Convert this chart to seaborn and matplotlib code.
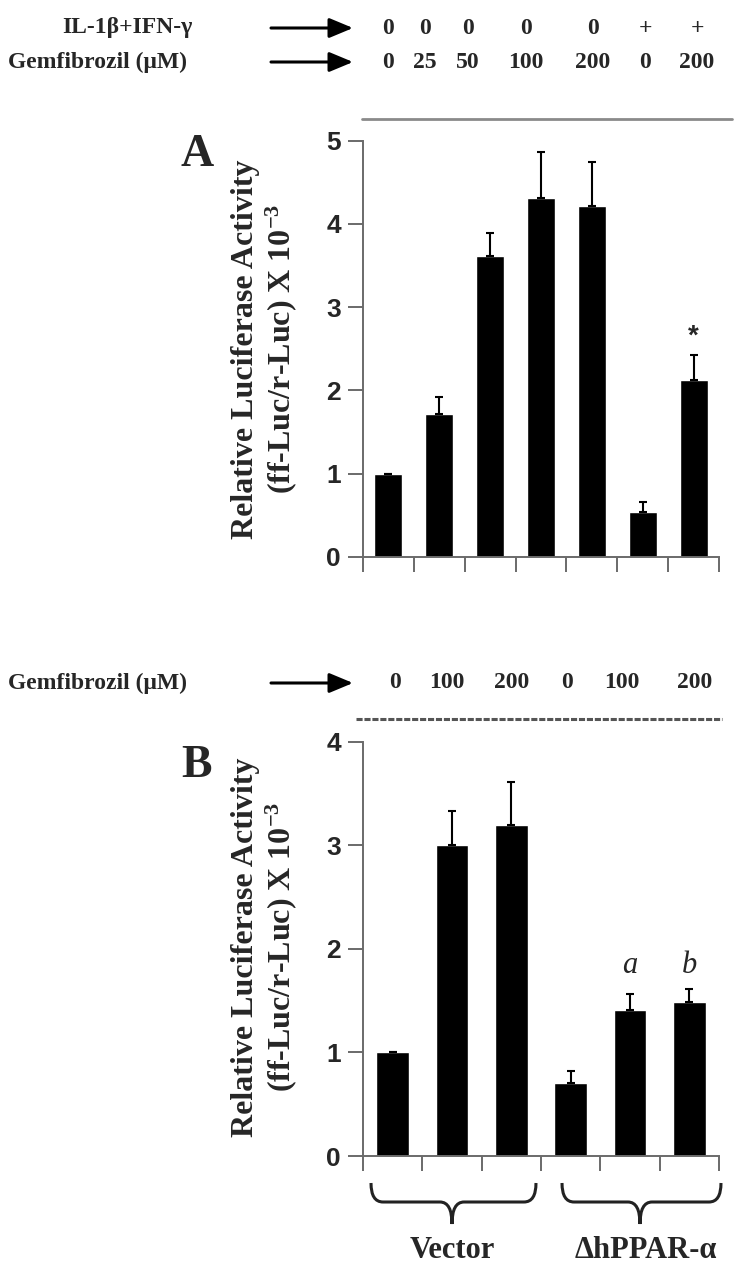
import numpy as np
import pandas as pd
import matplotlib
matplotlib.use("Agg")
import matplotlib.pyplot as plt
import seaborn as sns
from matplotlib.path import Path
from matplotlib.patches import PathPatch

# ---- panel A data ----
a_cond = ["c0", "g25", "g50", "g100", "g200", "cyt", "cyt_g200"]
a_cytokine = ["0", "0", "0", "0", "0", "+", "+"]
a_gem = ["0", "25", "50", "100", "200", "0", "200"]
a_mean = [1.0, 1.72, 3.62, 4.31, 4.22, 0.54, 2.12]
a_err = [0.0, 0.20, 0.27, 0.55, 0.52, 0.12, 0.30]

# ---- panel B data ----
b_cond = ["v0", "v100", "v200", "d0", "d100", "d200"]
b_gem = ["0", "100", "200", "0", "100", "200"]
b_mean = [1.0, 3.0, 3.2, 0.70, 1.41, 1.49]
b_err = [0.0, 0.33, 0.41, 0.12, 0.15, 0.12]
b_groups = ["Vector", "\u0394hPPAR-\u03b1"]
b_marks = {4: "a", 5: "b"}

sns.set_theme(style="white")
plt.rcParams["font.family"] = ["Liberation Serif", "DejaVu Serif"]
plt.rcParams["mathtext.default"] = "regular"

W, H = 747, 1266
fig = plt.figure(figsize=(W / 100, H / 100), dpi=100)

# overlay in pixel coordinates for header text, arrows, braces
ov = fig.add_axes([0, 0, 1, 1])
ov.set_xlim(0, W)
ov.set_ylim(H, 0)
ov.axis("off")
ov.patch.set_alpha(0)

serif = dict(family=["Liberation Serif", "DejaVu Serif"], weight="bold")
sans = dict(family=["Liberation Sans", "DejaVu Sans"], weight="bold")
spine_col = "#6a6a6a"


def px_axes(x0, x1, ytop, ybot):
    return fig.add_axes([x0 / W, 1 - ybot / H, (x1 - x0) / W, (ybot - ytop) / H])


def arrow(y):
    ov.annotate("", xy=(353, y), xytext=(271, y),
                arrowprops=dict(arrowstyle="-|>,head_length=1.2,head_width=0.5",
                                color="black", lw=2.2, shrinkA=0, shrinkB=0))


def style_axis(ax, n, ymax):
    ax.set_xlim(-0.5, n - 0.5)
    ax.set_ylim(0, ymax)
    ax.set_xticks(np.arange(-0.5, n))
    ax.set_xticklabels([])
    ax.set_yticks(range(ymax + 1))
    ax.set_yticklabels([str(v) for v in range(ymax + 1)], fontsize=19, **sans)
    ax.set_xlabel("")
    ax.set_ylabel("")
    sns.despine(ax=ax)
    for s in ["left", "bottom"]:
        ax.spines[s].set_color(spine_col)
        ax.spines[s].set_linewidth(1.4)
    ax.tick_params(axis="both", direction="out", length=11, width=1.4,
                   color=spine_col, left=True, bottom=True, pad=5)
    ax.patch.set_alpha(0)


def ylabel(yc):
    ov.text(246, yc, "Relative Luciferase Activity", rotation=90,
            ha="center", va="center", fontsize=23, **serif)
    ov.text(281, yc, "(ff-Luc/r-Luc) X 10$^{-3}$", rotation=90,
            ha="center", va="center", fontsize=23, **serif)


# ---------------- panel A ----------------
ov.text(127, 28, "IL-1\u03b2+IFN-\u03b3", ha="center", va="center", fontsize=17, **serif)
ov.text(98, 62, "Gemfibrozil (\u03bcM)", ha="center", va="center", fontsize=17, **serif)
arrow(28)
arrow(62)
a_hdr_x = [388, 425, 468, 526, 593, 645, 697]
for x, c, g in zip(a_hdr_x, a_cytokine, a_gem):
    ov.text(x, 28, c, ha="center", va="center", fontsize=17, **serif)
    ov.text(x, 62, g, ha="center", va="center", fontsize=17, **serif)
ov.plot([362, 732], [119, 119], color="#8a8a8a", lw=2)
ov.text(197, 155, "A", ha="center", va="center", fontsize=33, **serif)
ylabel(349)

axA = px_axes(363, 719, 140.7, 556.7)
dfA = pd.DataFrame({"cond": a_cond, "mean": a_mean})
sns.barplot(data=dfA, x="cond", y="mean", order=a_cond, color="black",
            width=0.55, errorbar=None, ax=axA, saturation=1)
axA.errorbar(np.arange(len(a_cond)), a_mean, yerr=[np.zeros(len(a_err)), a_err],
             fmt="none", ecolor="black", elinewidth=1.5, capsize=3, capthick=1.5)
style_axis(axA, len(a_cond), 5)
axA.text(6, a_mean[6] + a_err[6] + 0.22, "*", ha="center", va="center",
         fontsize=20, **sans)

# ---------------- panel B ----------------
ov.text(98, 683, "Gemfibrozil (\u03bcM)", ha="center", va="center", fontsize=17, **serif)
arrow(683)
b_hdr_x = [395, 447, 512, 567, 622, 695]
for x, g in zip(b_hdr_x, b_gem):
    ov.text(x, 683, g, ha="center", va="center", fontsize=17, **serif)
ov.plot([356, 722], [719, 719], color="#555555", lw=2.2, ls=(0, (2, 0.6)))
ov.text(197, 766, "B", ha="center", va="center", fontsize=33, **serif)
ylabel(947)

axB = px_axes(363, 719, 741.7, 1156)
dfB = pd.DataFrame({"cond": b_cond, "mean": b_mean})
sns.barplot(data=dfB, x="cond", y="mean", order=b_cond, color="black",
            width=0.55, errorbar=None, ax=axB, saturation=1)
axB.errorbar(np.arange(len(b_cond)), b_mean, yerr=[np.zeros(len(b_err)), b_err],
             fmt="none", ecolor="black", elinewidth=1.5, capsize=3, capthick=1.5)
style_axis(axB, len(b_cond), 4)
for i, m in b_marks.items():
    axB.text(i, 1.84, m, ha="center", va="center", fontsize=22,
             family=["Liberation Serif"], style="italic")


# curly braces under the group of bars
def brace(x0, x1, xm, yt=1183, ym=1202, yb=1224, r=12):
    verts = [(x0, yt), (x0, ym), (x0 + r, ym),
             (xm - r, ym), (xm, ym), (xm, yb),
             (xm, ym), (xm + r, ym),
             (x1 - r, ym), (x1, ym), (x1, yt)]
    codes = [Path.MOVETO, Path.CURVE3, Path.CURVE3,
             Path.LINETO, Path.CURVE3, Path.CURVE3,
             Path.CURVE3, Path.CURVE3,
             Path.LINETO, Path.CURVE3, Path.CURVE3]
    ov.add_patch(PathPatch(Path(verts, codes), fill=False, lw=2.2, ec="#222222"))


brace(371, 536, 452)
brace(562, 721, 640)
ov.text(452, 1250, b_groups[0], ha="center", va="center", fontsize=22, **serif)
ov.text(646, 1250, b_groups[1], ha="center", va="center", fontsize=22, **serif)

fig.savefig("out.png", dpi=100)
